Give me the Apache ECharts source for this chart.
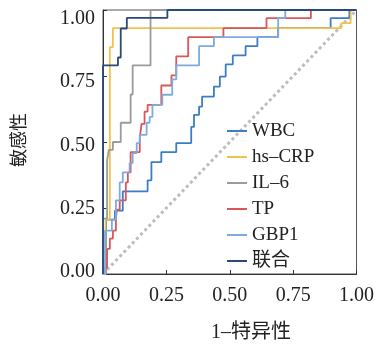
<!DOCTYPE html>
<html>
<head>
<meta charset="utf-8">
<script src="https://cdn.jsdelivr.net/npm/echarts@6/dist/echarts.min.js"></script>
<style>
  html, body { margin: 0; padding: 0; background: #fff; }
  #chart { width: 377px; height: 349px; }
</style>
</head>
<body>
<div id="chart"></div>
<script>
// series names (legend order)
const seriesNames = ['WBC', 'hs–CRP', 'IL–6', 'TP', 'GBP1', '联合'];
const seriesColors = ['#3b7ec6', '#f2c14e', '#9b9b9b', '#d9575a', '#7faadf', '#2b4a7c'];

// axis ticks
const tickValues = [0, 0.25, 0.5, 0.75, 1];

// ROC step vertices (1 - specificity, sensitivity)
const wbcFpr = [0, 0.012, 0.012, 0.047, 0.047, 0.078, 0.078, 0.176, 0.176, 0.191, 0.191, 0.23, 0.23, 0.289, 0.289, 0.348, 0.348, 0.359, 0.359, 0.379, 0.379, 0.391, 0.391, 0.4375, 0.4375, 0.461, 0.461, 0.484, 0.484, 0.512, 0.512, 0.5625, 0.5625, 0.609, 0.609, 0.691, 0.691, 0.898, 0.898, 0.972, 0.972, 1];
const wbcTpr = [0, 0, 0.206, 0.206, 0.24, 0.24, 0.313, 0.313, 0.355, 0.355, 0.424, 0.424, 0.462, 0.462, 0.496, 0.496, 0.557, 0.557, 0.603, 0.603, 0.634, 0.634, 0.672, 0.672, 0.71, 0.71, 0.748, 0.748, 0.794, 0.794, 0.828, 0.828, 0.863, 0.863, 0.897, 0.897, 0.931, 0.931, 0.969, 0.969, 1, 1];

const crpFpr = [0, 0.01, 0.01, 0.027, 0.027, 0.039, 0.039, 0.94, 0.94, 0.977, 0.977, 1];
const crpTpr = [0, 0, 0.206, 0.206, 0.859, 0.859, 0.931, 0.931, 0.95, 0.95, 1, 1];

const il6Fpr = [0, 0, 0.016, 0.016, 0.023, 0.023, 0.039, 0.039, 0.07, 0.07, 0.109, 0.109, 0.117, 0.117, 0.1875, 0.1875, 1];
const il6Tpr = [0, 0.21, 0.21, 0.43, 0.43, 0.47, 0.47, 0.5, 0.5, 0.573, 0.573, 0.68, 0.68, 0.79, 0.79, 1, 1];

const tpFpr = [0, 0.004, 0.004, 0.016, 0.016, 0.027, 0.027, 0.039, 0.039, 0.051, 0.051, 0.055, 0.055, 0.066, 0.066, 0.09, 0.09, 0.098, 0.098, 0.109, 0.109, 0.145, 0.145, 0.152, 0.152, 0.164, 0.164, 0.176, 0.176, 0.23, 0.23, 0.27, 0.27, 0.289, 0.289, 0.336, 0.336, 0.475, 0.475, 0.645, 0.645, 0.82, 0.82, 1];
const tpTpr = [0, 0, 0.023, 0.023, 0.095, 0.095, 0.134, 0.134, 0.164, 0.164, 0.214, 0.214, 0.244, 0.244, 0.279, 0.279, 0.347, 0.347, 0.385, 0.385, 0.462, 0.462, 0.515, 0.515, 0.569, 0.569, 0.615, 0.615, 0.641, 0.641, 0.714, 0.714, 0.752, 0.752, 0.824, 0.824, 0.897, 0.897, 0.931, 0.931, 0.969, 0.969, 1, 1];

const gbpFpr = [0, 0.008, 0.008, 0.035, 0.035, 0.051, 0.051, 0.066, 0.066, 0.078, 0.078, 0.105, 0.105, 0.117, 0.117, 0.133, 0.133, 0.145, 0.145, 0.172, 0.172, 0.184, 0.184, 0.195, 0.195, 0.234, 0.234, 0.273, 0.273, 0.289, 0.289, 0.379, 0.379, 0.4375, 0.4375, 0.691, 0.691, 0.719, 0.719, 1];
const gbpTpr = [0, 0, 0.164, 0.164, 0.206, 0.206, 0.279, 0.279, 0.347, 0.347, 0.385, 0.385, 0.42, 0.42, 0.458, 0.458, 0.496, 0.496, 0.527, 0.527, 0.573, 0.573, 0.595, 0.595, 0.641, 0.641, 0.679, 0.679, 0.737, 0.737, 0.79, 0.79, 0.863, 0.863, 0.897, 0.897, 0.969, 0.969, 1, 1];

const combFpr = [0, 0, 0.059, 0.059, 0.07, 0.07, 0.094, 0.094, 0.254, 0.254, 1];
const combTpr = [0, 0.79, 0.79, 0.82, 0.82, 0.93, 0.93, 0.97, 0.97, 1, 1];

// chance line
const refFpr = [0, 1];
const refTpr = [0, 1];

const curveFpr = [wbcFpr, crpFpr, il6Fpr, tpFpr, gbpFpr, combFpr];
const curveTpr = [wbcTpr, crpTpr, il6Tpr, tpTpr, gbpTpr, combTpr];

function zip(xs, ys) {
  return xs.map((x, i) => [x, ys[i]]);
}

const serifFont = '"Liberation Serif", "Noto Sans CJK SC", serif';

const chart = echarts.init(document.getElementById('chart'));

const series = [
  {
    name: 'ref',
    type: 'line',
    data: zip(refFpr, refTpr),
    symbol: 'none',
    silent: true,
    lineStyle: { color: '#bdbdbd', width: 3, type: [3, 3] },
  },
];
seriesNames.forEach((name, idx) => {
  series.push({
    name: name,
    type: 'line',
    data: zip(curveFpr[idx], curveTpr[idx]),
    symbol: 'none',
    clip: false,
    color: seriesColors[idx],
    lineStyle: { color: seriesColors[idx], width: 1.8 },
  });
});

const tickFormatter = (v) => v.toFixed(2);

chart.setOption({
  animation: false,
  backgroundColor: '#fff',
  grid: [
    // plot panel
    { left: 103, top: 10, width: 256, height: 264, show: true, borderColor: '#555', borderWidth: 1 },
    // y tick labels sit a little lower than the ticks in the original
    { left: 103, top: 19, width: 256, height: 252.5, show: false },
  ],
  legend: {
    data: seriesNames,
    orient: 'vertical',
    left: 222,
    top: 116,
    icon: 'rect',
    itemWidth: 20,
    itemHeight: 2,
    itemGap: 6,
    textStyle: { fontFamily: serifFont, fontSize: 19, lineHeight: 20, color: '#222' },
  },
  xAxis: [
    {
      type: 'value',
      min: 0,
      max: 1,
      interval: 0.25,
      axisLine: { lineStyle: { color: '#333' } },
      axisTick: { inside: true, length: 4, lineStyle: { color: '#333' } },
      splitLine: { show: false },
      axisLabel: {
        margin: 12,
        fontFamily: serifFont,
        fontSize: 20,
        color: '#222',
        formatter: tickFormatter,
      },
    },
    { type: 'value', gridIndex: 1, min: 0, max: 1, show: false },
  ],
  yAxis: [
    {
      type: 'value',
      min: 0,
      max: 1,
      interval: 0.25,
      axisLine: { show: true, lineStyle: { color: '#333' } },
      axisTick: { show: true, inside: true, length: 4, lineStyle: { color: '#333' } },
      splitLine: { show: false },
      axisLabel: { show: false },
    },
    {
      type: 'value',
      gridIndex: 1,
      min: 0,
      max: 1,
      interval: 0.25,
      axisLine: { show: false },
      axisTick: { show: false },
      splitLine: { show: false },
      axisLabel: {
        margin: 8,
        fontFamily: serifFont,
        fontSize: 20,
        color: '#222',
        formatter: tickFormatter,
      },
    },
  ],
  graphic: [
    {
      type: 'text',
      x: 251,
      y: 333,
      style: {
        text: '1–特异性',
        font: '20px ' + serifFont,
        fill: '#222',
        textAlign: 'center',
        textVerticalAlign: 'middle',
      },
    },
    {
      type: 'text',
      x: 20,
      y: 140,
      rotation: Math.PI / 2,
      style: {
        text: '敏感性',
        font: '18px ' + serifFont,
        fill: '#222',
        textAlign: 'center',
        textVerticalAlign: 'middle',
      },
    },
  ],
  series: series,
});
</script>
</body>
</html>
